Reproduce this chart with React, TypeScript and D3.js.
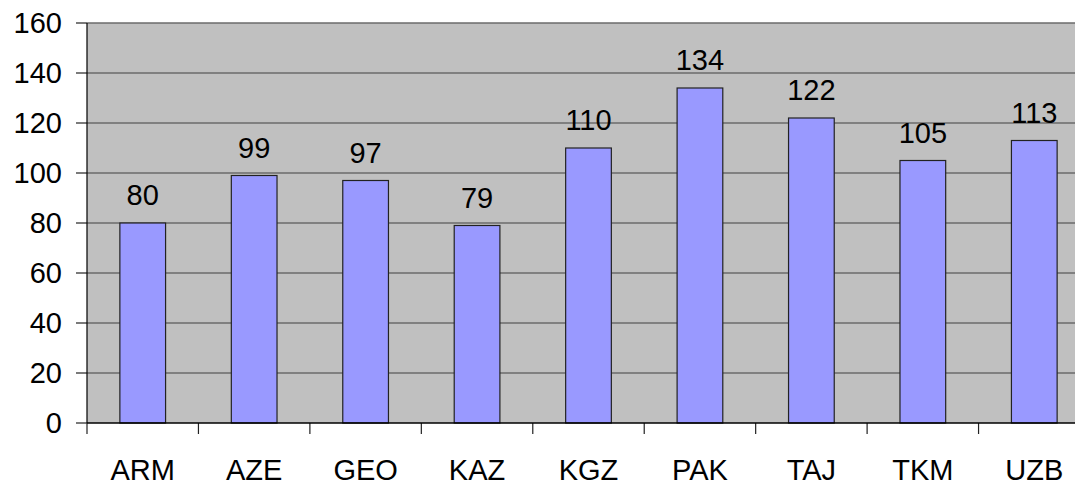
import React from 'react';
import * as d3 from 'd3';

const categories = ['ARM', 'AZE', 'GEO', 'KAZ', 'KGZ', 'PAK', 'TAJ', 'TKM', 'UZB'];
const values = [80, 99, 97, 79, 110, 134, 122, 105, 113];
const yTicks = [0, 20, 40, 60, 80, 100, 120, 140, 160];

const App = () => {
  const width = 1075;
  const height = 484;
  // plot area (right edge runs past the picture, as in the original)
  const left = 87;
  const right = 1090;
  const top = 23;
  const bottom = 423;
  const font = 'Liberation Sans, Arial, sans-serif';

  const x = d3.scaleBand<string>()
    .domain(categories)
    .range([left, right])
    .paddingInner(0)
    .paddingOuter(0);

  const y = d3.scaleLinear()
    .domain([0, 160])
    .range([bottom, top]);

  const bw = x.bandwidth();
  const barW = bw * 0.41;

  return (
    <svg width={width} height={height}
      style={{ position: 'absolute', left: 0, top: 0, display: 'block', background: '#fff' }}>
      {/* plot background */}
      <rect x={left} y={top} width={right - left} height={bottom - top} fill="#c0c0c0" />

      {/* gridlines + y ticks */}
      {yTicks.map(t => (
        <g key={t}>
          {t > 0 && (
            <line x1={left} x2={right} y1={y(t)} y2={y(t)} stroke="#6b6b6b" strokeWidth={1.4} />
          )}
          <line x1={76} x2={left} y1={y(t)} y2={y(t)} stroke="#222" strokeWidth={1.2} />
          <text x={62} y={y(t)} dy="0.36em" textAnchor="end"
            fontFamily={font} fontSize={29} fill="#000">{t}</text>
        </g>
      ))}

      {/* bars */}
      {categories.map((c, i) => {
        const cx = (x(c) as number) + bw / 2;
        return (
          <g key={c}>
            <rect x={cx - barW / 2} y={y(values[i])} width={barW} height={bottom - y(values[i])}
              fill="#9999ff" stroke="#222" strokeWidth={1.2} />
            <text x={cx} y={y(values[i]) - 18} textAnchor="middle"
              fontFamily={font} fontSize={29} fill="#000">{values[i]}</text>
            <text x={cx} y={480} textAnchor="middle"
              fontFamily={font} fontSize={29} fill="#000">{c}</text>
          </g>
        );
      })}

      {/* x ticks at band edges */}
      {d3.range(categories.length + 1).map(i => {
        const xp = left + i * bw;
        return <line key={i} x1={xp} x2={xp} y1={bottom} y2={434} stroke="#222" strokeWidth={1.2} />;
      })}

      {/* axes */}
      <line x1={left} x2={left} y1={top} y2={bottom} stroke="#000" strokeWidth={1.2} />
      <line x1={left} x2={right} y1={bottom} y2={bottom} stroke="#000" strokeWidth={1.5} />
    </svg>
  );
};

export default App;
